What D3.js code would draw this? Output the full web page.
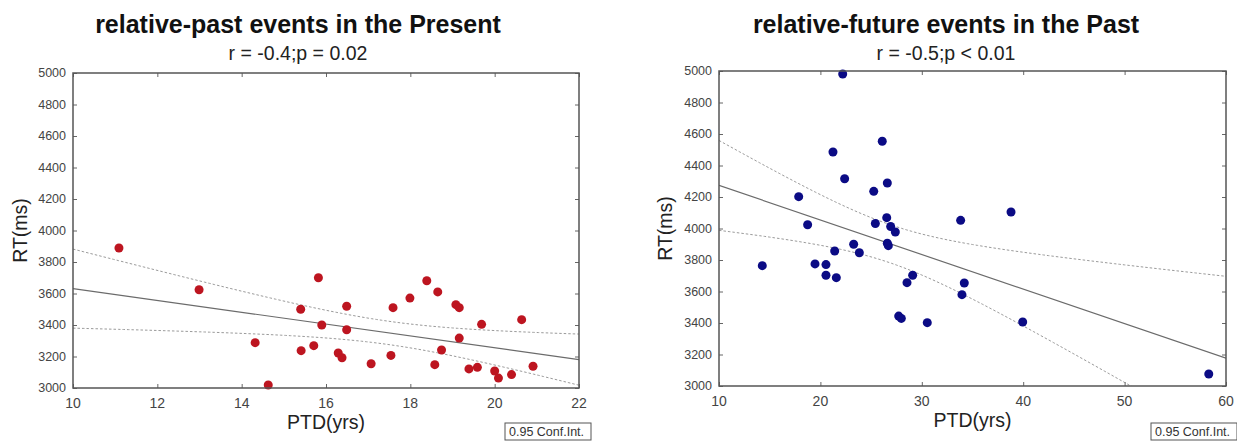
<!DOCTYPE html>
<html>
  <head>
    <meta charset="utf-8">
    <title>PTD vs RT</title>
    <script type="text/javascript" src="https://cdn.jsdelivr.net/npm/d3@7"></script>
    <style>
      body {
        margin: 0;
        background: #fff;
      }
      text {
        font-family: "Liberation Sans", Arial, sans-serif;
      }
      .title {
        font-size: 25px;
        font-weight: bold;
        fill: #111;
      }
      .subtitle {
        font-size: 19.5px;
        fill: #222;
      }
      .axis-label {
        font-size: 19.5px;
        fill: #222;
      }
      .ytick {
        font-size: 12.5px;
        fill: #444;
      }
      .xtick {
        font-size: 14px;
        fill: #444;
      }
      .legend-text {
        font-size: 12.5px;
        fill: #333;
      }
    </style>
  </head>
  <body>
    <div id="chart"></div>
    <script type="text/javascript">
        // left panel: relative-past events in the Present
        var pastX = [11.09, 12.99, 14.32, 14.63, 15.40, 15.41, 15.71, 15.82, 15.90, 16.49,
                     16.49, 16.29, 16.38, 17.07, 17.54, 17.59, 17.99, 18.39, 18.65, 19.08,
                     19.16, 19.16, 18.74, 18.58, 19.69, 19.39, 19.59, 20.00, 20.09, 20.40,
                     20.64, 20.91];
        var pastY = [3889, 3624, 3288, 3019, 3500, 3237, 3269, 3700, 3400, 3519,
                     3370, 3222, 3192, 3154, 3207, 3510, 3571, 3681, 3610, 3529,
                     3510, 3317, 3241, 3148, 3404, 3121, 3131, 3108, 3063, 3085,
                     3434, 3138];

        // right panel: relative-future events in the Past
        var futureX = [22.2, 26.1, 21.24, 22.39, 26.6, 17.86, 25.26, 26.54, 18.74, 25.42,
                       26.93, 27.39, 26.6, 26.7, 23.28, 21.41, 23.84, 33.83, 38.8, 14.27,
                       19.47, 20.55, 20.55, 21.57, 29.1, 28.54, 27.72, 27.98, 30.54, 34.19,
                       33.96, 39.95, 58.3];
        var futureY = [4981, 4554, 4486, 4316, 4289, 4202, 4236, 4069, 4024, 4032,
                       4013, 3978, 3906, 3891, 3900, 3857, 3846, 4052, 4105, 3764,
                       3775, 3771, 3703, 3688, 3703, 3656, 3444, 3429, 3402, 3654,
                       3580, 3406, 3076];

        var pastXTicks = [10, 12, 14, 16, 18, 20, 22];
        var futureXTicks = [10, 20, 30, 40, 50, 60];
        var yTicks = [3000, 3200, 3400, 3600, 3800, 4000, 4200, 4400, 4600, 4800, 5000];

        var titles = ['relative-past events in the Present', 'relative-future events in the Past'];
        var subtitles = ['r = -0.4;p = 0.02', 'r = -0.5;p < 0.01'];

        var width = 1237;
        var height = 441;
        var tCrit = 2.04; // ~t(0.975, 30)

        var panels = [
          { xs: pastX, ys: pastY, ticks: pastXTicks, dom: [10, 22], left: 73, right: 579, top: 73, bottom: 388,
            color: '#bd1520', titleX: 298, ylabX: 27, legendX: 505 },
          { xs: futureX, ys: futureY, ticks: futureXTicks, dom: [10, 60], left: 719, right: 1226, top: 71, bottom: 386,
            color: '#0b0b85', titleX: 946, ylabX: 672, legendX: 1151 }
        ];

        var svg = d3.select('#chart')
          .append('svg')
          .attr('width', width)
          .attr('height', height);

        svg.append('rect')
          .attr('width', width)
          .attr('height', height)
          .attr('fill', '#fff');

        // least squares fit plus 95% band of the mean
        function fit(xs, ys) {
          var n = xs.length;
          var mx = d3.mean(xs), my = d3.mean(ys);
          var sxx = d3.sum(xs, function(x) { return (x - mx) * (x - mx); });
          var sxy = d3.sum(xs, function(x, i) { return (x - mx) * (ys[i] - my); });
          var b = sxy / sxx;
          var a = my - b * mx;
          var sse = d3.sum(xs, function(x, i) { var r = ys[i] - (a + b * x); return r * r; });
          var s = Math.sqrt(sse / (n - 2));
          return {
            y: function(x) { return a + b * x; },
            half: function(x) { return tCrit * s * Math.sqrt(1 / n + (x - mx) * (x - mx) / sxx); }
          };
        }

        panels.forEach(function(p, k) {
          var x = d3.scaleLinear().domain(p.dom).range([p.left, p.right]);
          var y = d3.scaleLinear().domain([3000, 5000]).range([p.bottom, p.top]);
          var g = svg.append('g');

          g.append('clipPath')
            .attr('id', 'clip' + k)
            .append('rect')
            .attr('x', p.left)
            .attr('y', p.top)
            .attr('width', p.right - p.left)
            .attr('height', p.bottom - p.top);

          // titles
          g.append('text')
            .attr('class', 'title')
            .attr('x', p.titleX)
            .attr('y', 33)
            .attr('text-anchor', 'middle')
            .text(titles[k]);
          g.append('text')
            .attr('class', 'subtitle')
            .attr('x', p.titleX)
            .attr('y', 60)
            .attr('text-anchor', 'middle')
            .text(subtitles[k]);

          // fit line and confidence band
          var f = fit(p.xs, p.ys);
          var samples = d3.range(0, 101).map(function(i) {
            return p.dom[0] + (p.dom[1] - p.dom[0]) * i / 100;
          });
          var line = d3.line()
            .x(function(d) { return x(d[0]); })
            .y(function(d) { return y(d[1]); });
          var plot = g.append('g').attr('clip-path', 'url(#clip' + k + ')');

          plot.append('path')
            .attr('d', line(samples.map(function(v) { return [v, f.y(v) + f.half(v)]; })))
            .attr('fill', 'none')
            .attr('stroke', '#9a9a9a')
            .attr('stroke-width', 1)
            .attr('stroke-dasharray', '2.5,2');
          plot.append('path')
            .attr('d', line(samples.map(function(v) { return [v, f.y(v) - f.half(v)]; })))
            .attr('fill', 'none')
            .attr('stroke', '#9a9a9a')
            .attr('stroke-width', 1)
            .attr('stroke-dasharray', '2.5,2');
          plot.append('path')
            .attr('d', line([[p.dom[0], f.y(p.dom[0])], [p.dom[1], f.y(p.dom[1])]]))
            .attr('fill', 'none')
            .attr('stroke', '#6b6b6b')
            .attr('stroke-width', 1.2);

          // points
          g.selectAll('circle')
            .data(p.xs)
            .enter()
            .append('circle')
            .attr('cx', function(d) { return x(d); })
            .attr('cy', function(d, i) { return y(p.ys[i]); })
            .attr('r', 4.5)
            .attr('fill', p.color);

          // frame with inward ticks on all sides
          g.append('g')
            .attr('transform', 'translate(0,' + p.bottom + ')')
            .call(d3.axisBottom(x).tickValues(p.ticks).tickSize(-4).tickFormat(''))
            .call(function(a) { a.select('.domain').remove(); });
          g.append('g')
            .attr('transform', 'translate(0,' + p.top + ')')
            .call(d3.axisTop(x).tickValues(p.ticks).tickSize(-4).tickFormat(''))
            .call(function(a) { a.select('.domain').remove(); });
          g.append('g')
            .attr('transform', 'translate(' + p.left + ',0)')
            .call(d3.axisLeft(y).tickValues(yTicks).tickSize(-4).tickFormat(''))
            .call(function(a) { a.select('.domain').remove(); });
          g.append('g')
            .attr('transform', 'translate(' + p.right + ',0)')
            .call(d3.axisRight(y).tickValues(yTicks).tickSize(-4).tickFormat(''))
            .call(function(a) { a.select('.domain').remove(); });
          g.selectAll('.tick line').attr('stroke', '#666');

          g.append('rect')
            .attr('x', p.left)
            .attr('y', p.top)
            .attr('width', p.right - p.left)
            .attr('height', p.bottom - p.top)
            .attr('fill', 'none')
            .attr('stroke', '#555')
            .attr('stroke-width', 1.5);

          // tick labels
          g.selectAll('.xtick')
            .data(p.ticks)
            .enter()
            .append('text')
            .attr('class', 'xtick')
            .attr('x', function(d) { return x(d); })
            .attr('y', p.bottom + 20)
            .attr('text-anchor', 'middle')
            .text(function(d) { return d; });
          g.selectAll('.ytick')
            .data(yTicks)
            .enter()
            .append('text')
            .attr('class', 'ytick')
            .attr('x', p.left - 7)
            .attr('y', function(d) { return y(d); })
            .attr('dy', '0.35em')
            .attr('text-anchor', 'end')
            .text(function(d) { return d; });

          // axis titles
          g.append('text')
            .attr('class', 'axis-label')
            .attr('x', (p.left + p.right) / 2)
            .attr('y', p.bottom + 41)
            .attr('text-anchor', 'middle')
            .text('PTD(yrs)');
          g.append('text')
            .attr('class', 'axis-label')
            .attr('transform', 'translate(' + p.ylabX + ',' + ((p.top + p.bottom) / 2) + ') rotate(-90)')
            .attr('text-anchor', 'middle')
            .text('RT(ms)');

          // legend box
          var lg = g.append('g').attr('transform', 'translate(' + p.legendX + ',423)');
          lg.append('rect')
            .attr('width', 86)
            .attr('height', 17)
            .attr('fill', '#fff')
            .attr('stroke', '#555')
            .attr('stroke-width', 1);
          lg.append('text')
            .attr('class', 'legend-text')
            .attr('x', 4)
            .attr('y', 13)
            .text('0.95 Conf.Int.');
        });
    </script>
  </body>
</html>
